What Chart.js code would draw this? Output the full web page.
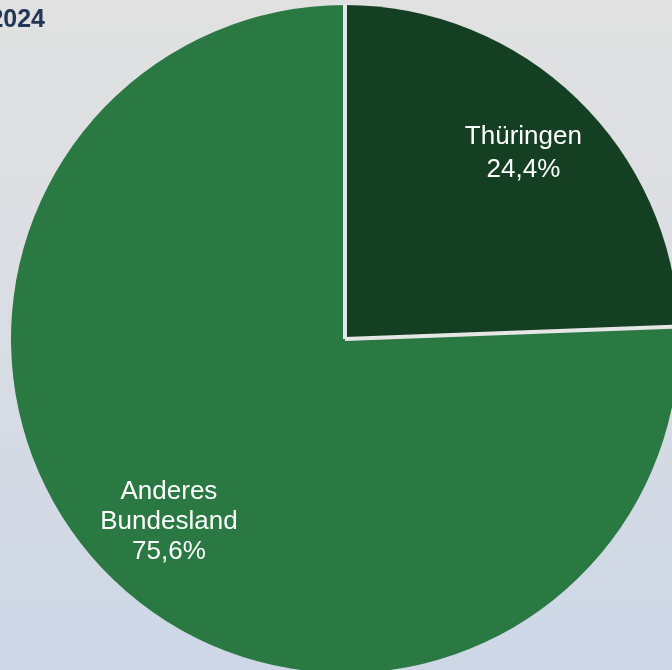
<!DOCTYPE html>
<html lang="de">
<head>
<meta charset="utf-8">
<title>Herkunft 2024</title>
<script src="https://cdn.jsdelivr.net/npm/chart.js@4.4.1/dist/chart.umd.min.js"></script>
<style>
  html, body {
    margin: 0;
    width: 672px;
    height: 670px;
    overflow: hidden;
  }
  body {
    background: linear-gradient(to bottom, #e1e1e1 0%, #dadde3 45%, #cdd7e6 100%);
    font-family: "Liberation Sans", Arial, sans-serif;
  }
  #chart-wrap {
    position: absolute;
    left: 0;
    top: 0;
    width: 690px;
    height: 690px;
  }
</style>
</head>
<body>
<div id="chart-wrap">
  <canvas id="chart"></canvas>
</div>
<script>
const titleText = "2024";
const categories = ["Thüringen", "Anderes Bundesland"];
const categoryLines = [["Thüringen"], ["Anderes", "Bundesland"]];
const shares = [24.4, 75.6];
const sliceColors = ["#143f22", "#2a7943"];

function formatShare(value) {
  return value.toFixed(1).replace(".", ",") + "%";
}

// light radial lines between the slices (no ring on the outer edge)
const sliceSeparators = {
  id: "sliceSeparators",
  afterDatasetsDraw(chart, args, opts) {
    const { ctx } = chart;
    const meta = chart.getDatasetMeta(0);
    ctx.save();
    ctx.strokeStyle = opts.color;
    ctx.lineWidth = opts.width;
    ctx.lineCap = "butt";
    meta.data.forEach((arc) => {
      const { x, y, startAngle, outerRadius } = arc.getProps(
        ["x", "y", "startAngle", "outerRadius"],
        true
      );
      ctx.beginPath();
      ctx.moveTo(x, y);
      ctx.lineTo(x + Math.cos(startAngle) * outerRadius, y + Math.sin(startAngle) * outerRadius);
      ctx.stroke();
    });
    ctx.restore();
  },
};

// white labels inside each slice: name lines + share
const sliceLabels = {
  id: "sliceLabels",
  afterDatasetsDraw(chart, args, opts) {
    const { ctx } = chart;
    const meta = chart.getDatasetMeta(0);
    ctx.save();
    ctx.fillStyle = "#ffffff";
    ctx.font = "26px 'Liberation Sans', Arial, sans-serif";
    ctx.textAlign = "center";
    ctx.textBaseline = "middle";
    meta.data.forEach((arc, i) => {
      const { x, y, startAngle, endAngle, outerRadius } = arc.getProps(
        ["x", "y", "startAngle", "endAngle", "outerRadius"],
        true
      );
      const mid = (startAngle + endAngle) / 2;
      const r = outerRadius * opts.radius[i];
      const cx = x + Math.cos(mid) * r;
      const cy = y + Math.sin(mid) * r;
      const lines = [...categoryLines[i], formatShare(shares[i])];
      lines.forEach((line, j) => {
        ctx.fillText(line, cx, cy + (j - (lines.length - 1) / 2) * opts.lineHeight[i]);
      });
    });
    ctx.restore();
  },
};

// year heading in the top left corner
const cornerTitle = {
  id: "cornerTitle",
  afterDraw(chart, args, opts) {
    const { ctx } = chart;
    ctx.save();
    ctx.fillStyle = "#233656";
    ctx.font = "bold 25px 'Liberation Sans', Arial, sans-serif";
    ctx.textAlign = "right";
    ctx.textBaseline = "alphabetic";
    ctx.fillText(opts.text, opts.x, opts.y);
    ctx.restore();
  },
};

new Chart(document.getElementById("chart"), {
  type: "pie",
  data: {
    labels: categories,
    datasets: [
      {
        data: shares,
        backgroundColor: sliceColors,
        borderWidth: 0,
      },
    ],
  },
  options: {
    responsive: true,
    maintainAspectRatio: false,
    animation: false,
    layout: {
      padding: { left: 11, top: 5, right: 11, bottom: 17 },
    },
    plugins: {
      legend: { display: false },
      tooltip: { enabled: false },
      sliceSeparators: { color: "#e6e6e6", width: 4 },
      sliceLabels: { radius: [0.77, 0.76], lineHeight: [33, 30] },
      cornerTitle: { text: titleText, x: 45, y: 27 },
    },
  },
  plugins: [sliceSeparators, sliceLabels, cornerTitle],
});
</script>
</body>
</html>
